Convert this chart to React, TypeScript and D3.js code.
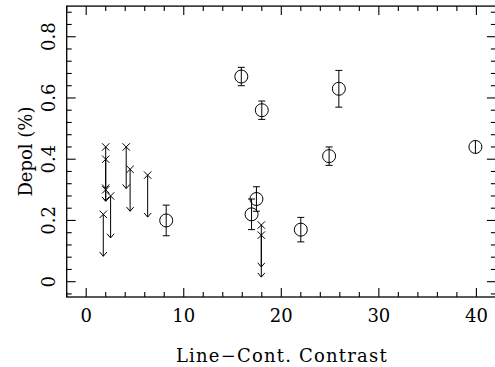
import React from "react";
import * as d3 from "d3";

// Detections: contrast, depolarisation and 1-sigma error
const detContrast = [8.2, 15.9, 18.0, 25.9, 24.9, 39.9, 16.95, 17.45, 22.0];
const detDepol = [0.2, 0.67, 0.56, 0.63, 0.41, 0.44, 0.22, 0.27, 0.17];
const detErr = [0.05, 0.03, 0.03, 0.06, 0.03, 0, 0.05, 0.04, 0.04];

// Upper limits: contrast, limit value and where the arrow ends
const limContrast = [2.0, 2.0, 2.0, 1.75, 2.5, 4.1, 4.5, 6.3, 17.95, 17.95];
const limDepol = [0.44, 0.4, 0.3, 0.22, 0.28, 0.44, 0.367, 0.348, 0.185, 0.152];
const limArrowTo = [0.304, 0.263, 0.263, 0.083, 0.143, 0.304, 0.23, 0.211, 0.048, 0.015];

const xMajorTicks = [0, 10, 20, 30, 40];
const yMajorTicks = [0, 0.2, 0.4, 0.6, 0.8];
const xLabel = "Line\u2212Cont. Contrast";
const yLabel = "Depol (%)";

const W = 495;
const H = 367;
const left = 66.7;
const right = 495.9;
const top = 6.1;
const bottom = 297;

export default function App() {
  const x = d3.scaleLinear().domain([-2, 42]).range([left, right]);
  const y = d3.scaleLinear().domain([-0.05, 0.9]).range([bottom, top]);

  const xMinor = d3.range(-2, 42.001, 2).filter((v) => !xMajorTicks.includes(Math.round(v)));
  const yMinor = d3
    .range(-0.04, 0.9001, 0.04)
    .map((v) => Math.round(v * 100) / 100)
    .filter((v) => !yMajorTicks.some((m) => Math.abs(m - v) < 1e-6));

  const font = "'DejaVu Serif', serif";
  const ink = "#000";
  const major = 9;
  const minor = 5;
  const r = 6.5;
  const cap = 3.5;
  const xs = 3.7;
  const ah = 4.2;
  const aw = 3.6;

  return (
    <svg
      width={W}
      height={H}
      style={{ position: "absolute", left: 0, top: 0, background: "#fff" }}
    >
      <g stroke={ink} strokeWidth={1.1} fill="none">
        <rect x={left} y={top} width={right - left} height={bottom - top} strokeWidth={1.3} />
        {xMajorTicks.map((v) => (
          <g key={"xM" + v}>
            <line x1={x(v)} x2={x(v)} y1={bottom} y2={bottom - major} />
            <line x1={x(v)} x2={x(v)} y1={top} y2={top + major} />
          </g>
        ))}
        {xMinor.map((v) => (
          <g key={"xm" + v}>
            <line x1={x(v)} x2={x(v)} y1={bottom} y2={bottom - minor} />
            <line x1={x(v)} x2={x(v)} y1={top} y2={top + minor} />
          </g>
        ))}
        {yMajorTicks.map((v) => (
          <g key={"yM" + v}>
            <line x1={left} x2={left + major} y1={y(v)} y2={y(v)} />
            <line x1={right} x2={right - major} y1={y(v)} y2={y(v)} />
          </g>
        ))}
        {yMinor.map((v) => (
          <g key={"ym" + v}>
            <line x1={left} x2={left + minor} y1={y(v)} y2={y(v)} />
            <line x1={right} x2={right - minor} y1={y(v)} y2={y(v)} />
          </g>
        ))}
      </g>

      <g fill={ink} fontFamily={font} fontSize={18}>
        {xMajorTicks.map((v) => (
          <text key={"xl" + v} x={x(v)} y={321.5} textAnchor="middle">
            {String(v)}
          </text>
        ))}
        {yMajorTicks.map((v) => (
          <text
            key={"yl" + v}
            transform={`translate(55,${y(v)}) rotate(-90)`}
            textAnchor="middle"
          >
            {String(v)}
          </text>
        ))}
        <text
          x={(left + right) / 2 + 0.6}
          y={361.5}
          textAnchor="middle"
          letterSpacing={1.2}
        >
          {xLabel}
        </text>
        <text
          transform={`translate(32,${(top + bottom) / 2}) rotate(-90)`}
          textAnchor="middle"
        >
          {yLabel}
        </text>
      </g>

      <g stroke={ink} strokeWidth={1} fill="none">
        {detContrast.map((c, i) => {
          const cx = x(c);
          const cy = y(detDepol[i]);
          const e = detErr[i];
          const y1 = e > 0 ? y(detDepol[i] + e) : cy - r;
          const y2 = e > 0 ? y(detDepol[i] - e) : cy + r;
          return (
            <g key={"d" + i}>
              <circle cx={cx} cy={cy} r={r} />
              <line x1={cx} x2={cx} y1={y1} y2={y2} />
              {e > 0 && (
                <>
                  <line x1={cx - cap} x2={cx + cap} y1={y1} y2={y1} />
                  <line x1={cx - cap} x2={cx + cap} y1={y2} y2={y2} />
                </>
              )}
            </g>
          );
        })}
        {limContrast.map((c, i) => {
          const cx = x(c);
          const cy = y(limDepol[i]);
          const ey = y(limArrowTo[i]);
          return (
            <g key={"l" + i}>
              <line x1={cx - xs} x2={cx + xs} y1={cy - xs} y2={cy + xs} />
              <line x1={cx - xs} x2={cx + xs} y1={cy + xs} y2={cy - xs} />
              <line x1={cx} x2={cx} y1={cy} y2={ey} />
              <polyline points={`${cx - aw},${ey - ah} ${cx},${ey} ${cx + aw},${ey - ah}`} />
            </g>
          );
        })}
      </g>
    </svg>
  );
}
